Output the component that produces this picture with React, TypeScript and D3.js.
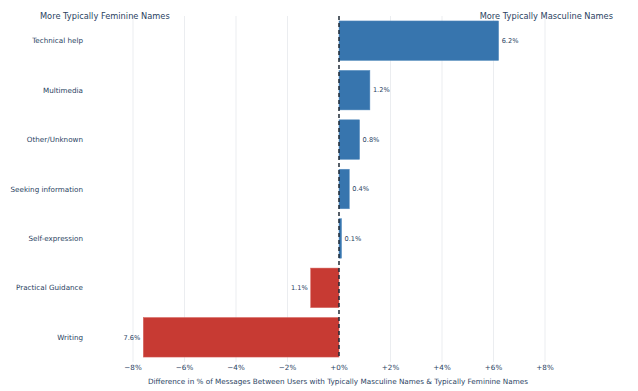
import React, { useRef, useEffect } from 'react';
import * as d3 from 'd3';

const categories = ['Technical help', 'Multimedia', 'Other/Unknown', 'Seeking information', 'Self-expression', 'Practical Guidance', 'Writing'];
const differences = [6.2, 1.2, 0.8, 0.4, 0.1, -1.1, -7.6];
const tickValues = [-8, -6, -4, -2, 0, 2, 4, 6, 8];

const width = 638;
const height = 391;

const App = () => {
  const svgRef = useRef<SVGSVGElement>(null);

  useEffect(() => {
    const svg = d3.select(svgRef.current);
    svg.selectAll('*').remove();

    const font = '"DejaVu Sans", Verdana, sans-serif';
    const textColor = '#2a3f5f';
    const data = categories.map((c, i) => ({ name: c, value: differences[i] }));

    const xScale = d3.scaleLinear().domain([-8, 8]).range([133, 545]);
    const yScale = d3.scaleBand()
      .domain(categories)
      .range([16, 362])
      .paddingInner(0.2)
      .paddingOuter(0.1);

    // grid lines
    svg.append('g')
      .selectAll('line')
      .data(tickValues.filter(t => t !== 0))
      .enter()
      .append('line')
      .attr('x1', d => xScale(d))
      .attr('x2', d => xScale(d))
      .attr('y1', 16)
      .attr('y2', 362)
      .attr('stroke', '#ebedf0')
      .attr('stroke-width', 1);

    // bars
    svg.append('g')
      .selectAll('rect')
      .data(data)
      .enter()
      .append('rect')
      .attr('x', d => xScale(Math.min(0, d.value)))
      .attr('y', d => yScale(d.name)!)
      .attr('width', d => Math.abs(xScale(d.value) - xScale(0)))
      .attr('height', yScale.bandwidth())
      .attr('fill', d => d.value >= 0 ? '#3775ae' : '#c73a33')
      .attr('stroke', d => d.value >= 0 ? '#5a8fc0' : '#d6625c')
      .attr('stroke-width', 0.5);

    // value labels
    svg.append('g')
      .selectAll('text')
      .data(data)
      .enter()
      .append('text')
      .attr('x', d => d.value >= 0 ? xScale(d.value) + 3 : xScale(d.value) - 3)
      .attr('y', d => yScale(d.name)! + yScale.bandwidth() / 2)
      .attr('dy', '0.35em')
      .attr('text-anchor', d => d.value >= 0 ? 'start' : 'end')
      .attr('font-family', font)
      .attr('font-size', '6.6px')
      .attr('fill', textColor)
      .text(d => `${Math.abs(d.value).toFixed(1)}%`);

    // zero line
    svg.append('line')
      .attr('x1', xScale(0))
      .attr('x2', xScale(0))
      .attr('y1', 16)
      .attr('y2', 358)
      .attr('stroke', '#1f2a36')
      .attr('stroke-width', 1.5)
      .attr('stroke-dasharray', '4,3');

    // category labels
    svg.append('g')
      .selectAll('text')
      .data(categories)
      .enter()
      .append('text')
      .attr('x', 83)
      .attr('y', d => yScale(d)! + yScale.bandwidth() / 2)
      .attr('dy', '0.35em')
      .attr('text-anchor', 'end')
      .attr('font-family', font)
      .attr('font-size', '7.2px')
      .attr('fill', textColor)
      .text(d => d);

    // x tick labels
    svg.append('g')
      .selectAll('text')
      .data(tickValues)
      .enter()
      .append('text')
      .attr('x', d => xScale(d))
      .attr('y', 370)
      .attr('text-anchor', 'middle')
      .attr('font-family', font)
      .attr('font-size', '7.2px')
      .attr('fill', textColor)
      .text(d => (d < 0 ? '\u2212' : '+') + Math.abs(d) + '%');

    // x axis title
    svg.append('text')
      .attr('x', 338)
      .attr('y', 384)
      .attr('text-anchor', 'middle')
      .attr('font-family', font)
      .attr('font-size', '7.25px')
      .attr('fill', textColor)
      .text('Difference in % of Messages Between Users with Typically Masculine Names & Typically Feminine Names');

    // side headers
    svg.append('text')
      .attr('x', 40)
      .attr('y', 19)
      .attr('font-family', font)
      .attr('font-size', '8.25px')
      .attr('fill', textColor)
      .text('More Typically Feminine Names');

    svg.append('text')
      .attr('x', 613)
      .attr('y', 19)
      .attr('text-anchor', 'end')
      .attr('font-family', font)
      .attr('font-size', '8.25px')
      .attr('fill', textColor)
      .text('More Typically Masculine Names');
  }, []);

  return (
    <svg ref={svgRef} width={width} height={height}
      style={{ position: 'absolute', left: 0, top: 0, background: '#fff' }} />
  );
};

export default App;
